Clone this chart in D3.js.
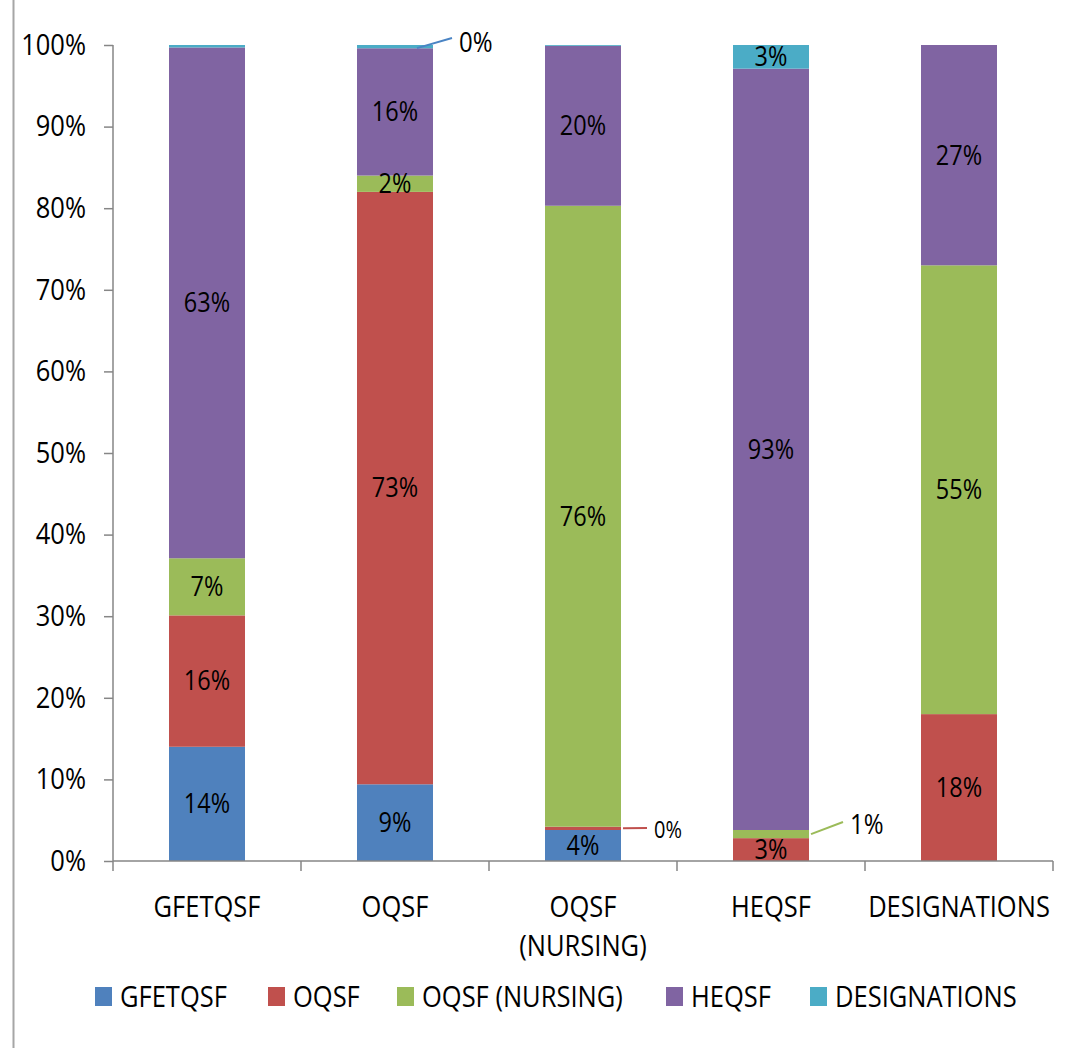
<!DOCTYPE html>
<html>
<head>
<meta charset="utf-8">
<script src="https://cdn.jsdelivr.net/npm/d3@7"></script>
<style>
  html, body { margin: 0; padding: 0; background: #fff; }
  svg { display: block; font-family: "Open Sans", "DejaVu Sans", sans-serif; }
</style>
</head>
<body>
<svg id="chart" width="1085" height="1048"></svg>
<script>
// Frameworks (x-axis categories) and the share of each stacked series, in percent
const categories = ["GFETQSF", "OQSF", "OQSF (NURSING)", "HEQSF", "DESIGNATIONS"];
const seriesNames = ["GFETQSF", "OQSF", "OQSF (NURSING)", "HEQSF", "DESIGNATIONS"];
const seriesColors = ["#4F81BD", "#C0504D", "#9BBB59", "#8064A2", "#4BACC6"];

const gfetqsfShare      = [14.0,  9.4,  3.8,  0.0,  0.0];
const oqsfShare         = [16.1, 72.6,  0.4,  2.8, 18.0];
const oqsfNursingShare  = [ 7.0,  2.0, 76.1,  1.0, 55.0];
const heqsfShare        = [62.6, 15.6, 19.6, 93.3, 27.0];
const designationsShare = [ 0.3,  0.4,  0.1,  2.9,  0.0];

const yTicks = [0, 10, 20, 30, 40, 50, 60, 70, 80, 90, 100];

// Small segments whose labels sit outside the bar with a leader line
const callouts = [
  { cat: 1, series: 4, lx: 459, ly: 42, size: 24 },
  { cat: 2, series: 1, lx: 654, ly: 830, size: 20 },
  { cat: 3, series: 2, lx: 850, ly: 824, size: 24 }
];

const seriesValues = [gfetqsfShare, oqsfShare, oqsfNursingShare, heqsfShare, designationsShare];

const svg = d3.select("#chart");
const axisColor = "#868686";
const stretch = "scale(1,1.14)";   // the typeface is set slightly tall

const x = d3.scaleBand().domain(categories).range([113, 1053]).padding(0);
const y = d3.scaleLinear().domain([0, 100]).range([861, 45]);
const barWidth = 76;

// Place a text at (px, py) with the tall stretch applied around its anchor
function tallText(parent, px, py, size, str, anchor) {
  return parent.append("text")
    .attr("transform", `translate(${px},${py}) ${stretch}`)
    .attr("dy", "0.35em")
    .attr("text-anchor", anchor || "middle")
    .attr("font-size", size)
    .attr("fill", "#000")
    .text(str);
}

// Outer frame line on the left edge
svg.append("line")
  .attr("x1", 13.5).attr("x2", 13.5).attr("y1", 0).attr("y2", 1048)
  .attr("stroke", "#a6a6a6").attr("stroke-width", 2);

// Stack the series per category
const rows = categories.map((c, i) => {
  const r = { category: c };
  seriesNames.forEach((s, j) => { r[s] = seriesValues[j][i]; });
  return r;
});
const stacked = d3.stack().keys(seriesNames)(rows);

const layers = svg.append("g").selectAll("g")
  .data(stacked).join("g")
  .attr("fill", (d, i) => seriesColors[i]);

layers.selectAll("rect")
  .data(d => d)
  .join("rect")
  .attr("x", d => x(d.data.category) + x.bandwidth() / 2 - barWidth / 2)
  .attr("width", barWidth)
  .attr("y", d => y(d[1]))
  .attr("height", d => Math.max(0, y(d[0]) - y(d[1])));

// Y axis
const yAxis = svg.append("g")
  .attr("transform", "translate(113,0)")
  .call(d3.axisLeft(y).tickValues(yTicks).tickSize(9).tickPadding(18).tickFormat(d => d + "%"));
yAxis.select(".domain").remove();
yAxis.selectAll(".tick line").attr("stroke", axisColor).attr("stroke-width", 1.5);
yAxis.selectAll(".tick text")
  .attr("font-size", 25.5).attr("fill", "#000")
  .attr("font-family", "'Open Sans', sans-serif")
  .attr("transform", stretch);
svg.append("line")
  .attr("x1", 113).attr("x2", 113).attr("y1", y(100)).attr("y2", 871)
  .attr("stroke", axisColor).attr("stroke-width", 1.5);

// X axis line and boundary ticks
svg.append("line")
  .attr("x1", 113).attr("x2", 1053).attr("y1", 861).attr("y2", 861)
  .attr("stroke", axisColor).attr("stroke-width", 1.5);
categories.forEach(c => {
  const bx = x(c) + x.bandwidth();
  svg.append("line")
    .attr("x1", bx).attr("x2", bx).attr("y1", 861).attr("y2", 871)
    .attr("stroke", axisColor).attr("stroke-width", 1.5);
});

// Category labels (wrapped before a parenthesis)
categories.forEach(c => {
  const parts = c.replace(" (", "\n(").split("\n");
  parts.forEach((p, k) => {
    tallText(svg, x(c) + x.bandwidth() / 2, 907 + k * 39, 25.5, p);
  });
});

// Data labels inside the segments
const isCallout = (ci, si) => callouts.some(o => o.cat === ci && o.series === si);
stacked.forEach((layer, si) => {
  layer.forEach((d, ci) => {
    const v = d[1] - d[0];
    if (isCallout(ci, si) || v < 1.5) return;
    tallText(svg, x(d.data.category) + x.bandwidth() / 2, (y(d[0]) + y(d[1])) / 2, 23.5,
      Math.round(v) + "%");
  });
});

// Callout labels with leader lines
callouts.forEach(o => {
  const d = stacked[o.series][o.cat];
  const v = d[1] - d[0];
  const segY = (y(d[0]) + y(d[1])) / 2;
  const barRight = x(categories[o.cat]) + x.bandwidth() / 2 + barWidth / 2;
  const top = o.series === 4;
  const startX = top ? barRight - 16 : barRight + 2;
  svg.append("line")
    .attr("x1", startX).attr("y1", segY + (top ? 1.5 : 0))
    .attr("x2", o.lx - 7).attr("y2", o.ly - (top ? 4 : 2))
    .attr("stroke", top ? "#4A84C4" : seriesColors[o.series])
    .attr("stroke-width", 2);
  tallText(svg, o.lx, o.ly, o.size, Math.round(v) + "%", "start");
});

// Legend
const legendX = [95, 268, 397, 666, 810];
const legend = svg.append("g");
seriesNames.forEach((s, i) => {
  legend.append("rect")
    .attr("x", legendX[i]).attr("y", 987).attr("width", 17).attr("height", 19)
    .attr("fill", seriesColors[i]);
  tallText(legend, legendX[i] + 25, 997, 25.5, s, "start");
});
</script>
</body>
</html>
